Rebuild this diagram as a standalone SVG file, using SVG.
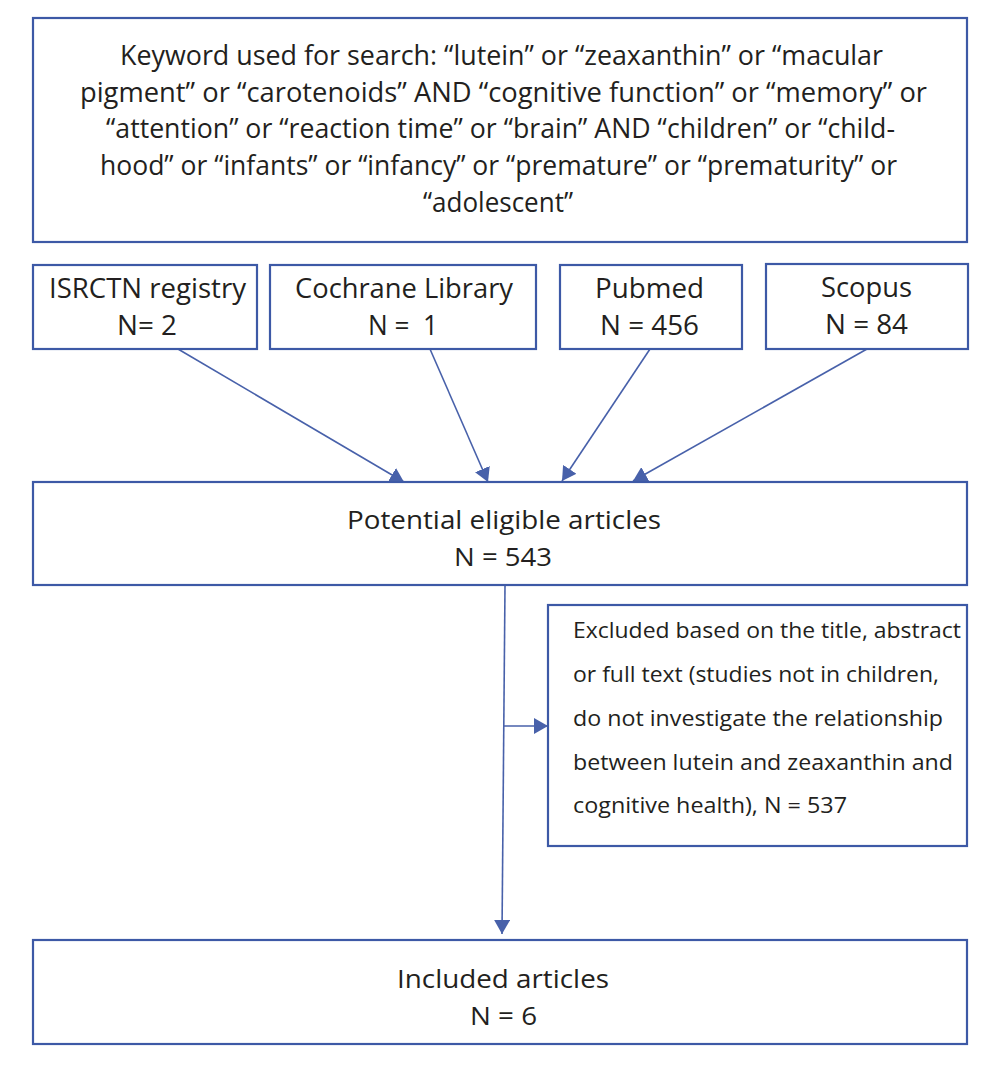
<svg xmlns="http://www.w3.org/2000/svg" width="1000" height="1071" viewBox="0 0 1000 1071">
<style>
.box{fill:#fff;stroke:#3d59a6;stroke-width:2.2}
.t{font-family:"Open Sans","Liberation Sans",sans-serif;fill:#231f20}
.big{font-size:27px}
.src{font-size:27px}
.mid{font-size:26px}
.exc{font-size:22.5px}
.con{stroke:#4861aa;stroke-width:1.6;fill:none}
</style>
<defs>
<marker id="ah" viewBox="0 0 14 16" markerUnits="userSpaceOnUse" markerWidth="14" markerHeight="16" refX="14" refY="8" orient="auto">
<path d="M0,0 L14,8 L0,16 z" fill="#4861aa"/>
</marker>
</defs>
<rect width="1000" height="1071" fill="#fff"/>
<g id="connectors">
<path class="con" d="M178,349 L404,482" marker-end="url(#ah)"/>
<path class="con" d="M430,349 L488,482" marker-end="url(#ah)"/>
<path class="con" d="M650,349 L562,481" marker-end="url(#ah)"/>
<path class="con" d="M867,349 L633,481" marker-end="url(#ah)"/>
<path class="con" d="M505,586 L502,934" marker-end="url(#ah)"/>
<path class="con" d="M504,726 L548,726" marker-end="url(#ah)"/>
</g>
<g id="keywords">
<rect class="box" x="33" y="18" width="934" height="224"/>
<text class="t big" text-anchor="middle" x="501.5" y="65" textLength="763" lengthAdjust="spacingAndGlyphs">Keyword used for search: “lutein” or “zeaxanthin” or “macular</text>
<text class="t big" text-anchor="middle" x="503.5" y="102" textLength="847" lengthAdjust="spacingAndGlyphs">pigment” or “carotenoids” AND “cognitive function” or “memory” or</text>
<text class="t big" text-anchor="middle" x="500.5" y="138" textLength="789" lengthAdjust="spacingAndGlyphs">“attention” or “reaction time” or “brain” AND “children” or “child-</text>
<text class="t big" text-anchor="middle" x="498.5" y="175" textLength="797" lengthAdjust="spacingAndGlyphs">hood” or “infants” or “infancy” or “premature” or “prematurity” or</text>
<text class="t big" text-anchor="middle" x="498" y="212" textLength="150" lengthAdjust="spacingAndGlyphs">“adolescent”</text>
</g>
<g id="isrctn">
<rect class="box" x="33" y="265" width="224" height="84"/>
<text class="t src" x="49" y="298" textLength="197" lengthAdjust="spacingAndGlyphs">ISRCTN registry</text>
<text class="t src" x="117" y="335" textLength="60" lengthAdjust="spacingAndGlyphs">N= 2</text>
</g>
<g id="cochrane">
<rect class="box" x="270" y="265" width="266" height="84"/>
<text class="t src" x="295" y="298" textLength="218" lengthAdjust="spacingAndGlyphs">Cochrane Library</text>
<text class="t src" x="368" y="335" textLength="70" lengthAdjust="spacingAndGlyphs" xml:space="preserve">N =  1</text>
</g>
<g id="pubmed">
<rect class="box" x="560" y="265" width="182" height="84"/>
<text class="t src" x="595" y="298" textLength="109" lengthAdjust="spacingAndGlyphs">Pubmed</text>
<text class="t src" x="600" y="335" textLength="99" lengthAdjust="spacingAndGlyphs">N = 456</text>
</g>
<g id="scopus">
<rect class="box" x="766" y="264" width="202" height="85"/>
<text class="t src" x="821" y="297" textLength="91" lengthAdjust="spacingAndGlyphs">Scopus</text>
<text class="t src" x="825" y="334" textLength="83" lengthAdjust="spacingAndGlyphs">N = 84</text>
</g>
<g id="potential">
<rect class="box" x="33" y="482" width="934" height="103"/>
<text class="t mid" x="347" y="529" textLength="314" lengthAdjust="spacingAndGlyphs">Potential eligible articles</text>
<text class="t mid" x="454" y="566" textLength="98" lengthAdjust="spacingAndGlyphs">N = 543</text>
</g>
<g id="excluded">
<rect class="box" x="548" y="605" width="419" height="241"/>
<text class="t exc" x="573" y="638" textLength="388" lengthAdjust="spacingAndGlyphs">Excluded based on the title, abstract</text>
<text class="t exc" x="573" y="682" textLength="366" lengthAdjust="spacingAndGlyphs">or full text (studies not in children,</text>
<text class="t exc" x="573" y="726" textLength="370" lengthAdjust="spacingAndGlyphs">do not investigate the relationship</text>
<text class="t exc" x="573" y="770" textLength="380" lengthAdjust="spacingAndGlyphs">between lutein and zeaxanthin and</text>
<text class="t exc" x="573" y="813" textLength="274" lengthAdjust="spacingAndGlyphs">cognitive health), N = 537</text>
</g>
<g id="included">
<rect class="box" x="33" y="940" width="934" height="104"/>
<text class="t mid" x="397" y="988" textLength="212" lengthAdjust="spacingAndGlyphs">Included articles</text>
<text class="t mid" x="470" y="1025" textLength="67" lengthAdjust="spacingAndGlyphs">N = 6</text>
</g>
</svg>
